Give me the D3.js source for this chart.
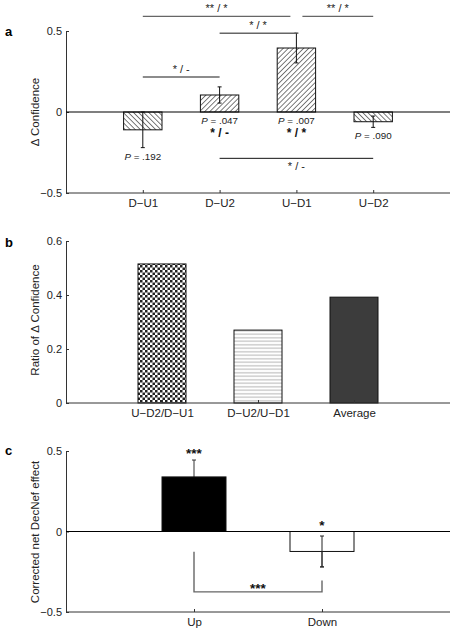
<!DOCTYPE html>
<html><head><meta charset="utf-8">
<script src="https://cdn.jsdelivr.net/npm/d3@7"></script>
<style>body{margin:0;background:#fff}svg{display:block}text{font-family:"Liberation Sans",Arial,sans-serif}</style>
</head><body>
<script>
// Panel a
const catsA = ["D\u2212U1","D\u2212U2","U\u2212D1","U\u2212D2"];
const meanA = [-0.11, 0.105, 0.395, -0.06];
const errA  = [0.11, 0.05, 0.092, 0.035];
const pA    = [".192", ".047", ".007", ".090"];
const sigA  = ["", "* / -", "* / *", ""];
const hatchA = ["back","fwd","fwd","back"];
const ticksA = [-0.5, 0, 0.5];
// comparisons: from, to category index, y level (data units), label
const compA = [
  {from:0, to:2, y:0.59,  label:"** / *", end:-1, kind:"grey"},
  {from:2, to:3, y:0.59,  label:"** / *", start:1, kind:"grey"},
  {from:1, to:2, y:0.486, label:"* / *",  kind:"grey"},
  {from:0, to:1, y:0.216, label:"* / -",  kind:"grey"},
  {from:1, to:3, y:-0.286,label:"* / -",  kind:"black", below:true}
];
// Panel b
const catsB = ["U\u2212D2/D\u2212U1","D\u2212U2/U\u2212D1","Average"];
const valB  = [0.515, 0.27, 0.392];
const ticksB = [0, 0.2, 0.4, 0.6];
// Panel c
const catsC = ["Up","Down"];
const meanC = [0.339, -0.124];
const errC  = [0.105, 0.096];
const starC = ["***","*"];
const ticksC = [-0.5, 0, 0.5];
const bracketC = {top:-0.125, left:-0.375, right:-0.305, label:"***"};

const W=456,H=633;
const svg=d3.select("body").append("svg").attr("width",W).attr("height",H);
const defs=svg.append("defs");
function hatch(id,dir){
  const p=defs.append("pattern").attr("id",id).attr("patternUnits","userSpaceOnUse")
    .attr("width",3.6).attr("height",3.6)
    .attr("patternTransform","rotate("+(dir==="fwd"?45:-45)+")");
  p.append("rect").attr("width",3.6).attr("height",3.6).attr("fill","#fff");
  p.append("line").attr("x1",0).attr("y1",0).attr("x2",0).attr("y2",3.6).attr("stroke","#111").attr("stroke-width",1.1);
}
hatch("fwd","fwd"); hatch("back","back");
const ck=defs.append("pattern").attr("id","check").attr("patternUnits","userSpaceOnUse").attr("width",5).attr("height",5);
ck.append("rect").attr("width",5).attr("height",5).attr("fill","#fff");
ck.append("rect").attr("width",2.5).attr("height",2.5).attr("fill","#222");
ck.append("rect").attr("x",2.5).attr("y",2.5).attr("width",2.5).attr("height",2.5).attr("fill","#222");
const hz=defs.append("pattern").attr("id","horiz").attr("patternUnits","userSpaceOnUse").attr("width",4).attr("height",3.5);
hz.append("rect").attr("width",4).attr("height",3.5).attr("fill","#fff");
hz.append("line").attr("x1",0).attr("x2",4).attr("y1",1.75).attr("y2",1.75).attr("stroke","#999").attr("stroke-width",0.8);

const X0=66,X1=450, AX="#333";
function axes(g,x,y,ticks,cats,ylabel,ymid,letter,ltop){
  const yMin=y.domain()[0];
  g.append("g").attr("transform",`translate(${X0},0)`)
    .call(d3.axisLeft(y).tickValues(ticks).tickSizeInner(-3).tickSizeOuter(0).tickPadding(4)
      .tickFormat(d=>d===0?"0":d3.format(".1f")(d).replace("-","\u2212")))
    .call(s=>{s.select(".domain").attr("stroke",AX);s.selectAll("line").attr("stroke",AX);
      s.selectAll("text").attr("font-size",11).attr("fill","#222").attr("font-family","Liberation Sans, Arial, sans-serif");});
  g.append("g").attr("transform",`translate(0,${y(yMin)})`)
    .call(d3.axisBottom(x).tickSizeInner(-3).tickSizeOuter(0).tickPadding(6))
    .call(s=>{s.select(".domain").attr("stroke",AX).attr("d",`M${X0},0H${X1}`);s.selectAll("line").attr("stroke",AX);
      s.selectAll("text").attr("font-size",11.5).attr("fill","#222").attr("font-family","Liberation Sans, Arial, sans-serif");});
  g.append("text").attr("transform",`translate(39,${ymid}) rotate(-90)`).attr("text-anchor","middle")
    .attr("font-size",11.5).attr("fill","#222").text(ylabel);
  g.append("text").attr("x",5).attr("y",ltop).attr("font-size",13).attr("font-weight","bold").text(letter);
}

// ---- Panel a
{
  const x=d3.scalePoint().domain(catsA).range([X0,X1]).padding(1);
  const y=d3.scaleLinear().domain([-0.5,0.5]).range([193,31]);
  const bw=x.step()*0.5;
  const g=svg.append("g");
  axes(g,x,y,ticksA,catsA,"\u0394 Confidence",112,"a",36);
  g.selectAll(".bar").data(catsA).join("rect")
    .attr("x",d=>x(d)-bw/2).attr("width",bw)
    .attr("y",(d,i)=>y(Math.max(0,meanA[i]))).attr("height",(d,i)=>Math.abs(y(meanA[i])-y(0)))
    .attr("fill",(d,i)=>`url(#${hatchA[i]})`).attr("stroke","#111").attr("stroke-width",1);
  g.append("line").attr("x1",X0).attr("x2",X1).attr("y1",y(0)).attr("y2",y(0)).attr("stroke","#000").attr("stroke-width",1.2);
  catsA.forEach((c,i)=>{
    const cx=x(c), lo=y(meanA[i]-errA[i]), hi=y(meanA[i]+errA[i]);
    g.append("line").attr("x1",cx).attr("x2",cx).attr("y1",lo).attr("y2",hi).attr("stroke","#111");
    [lo,hi].forEach(v=>g.append("line").attr("x1",cx-2).attr("x2",cx+2).attr("y1",v).attr("y2",v).attr("stroke","#111"));
    const base = meanA[i]<0 ? y(meanA[i]-errA[i]) : y(0);
    const t=g.append("text").attr("x",cx).attr("y",base+12).attr("text-anchor","middle").attr("font-size",9.8).attr("fill","#222");
    t.append("tspan").attr("font-style","italic").text("P");
    t.append("tspan").text(" = "+pA[i]);
    if(sigA[i]) g.append("text").attr("x",cx).attr("y",base+25).attr("text-anchor","middle")
      .attr("font-size",12).attr("font-weight","bold").attr("fill","#111").text(sigA[i]);
  });
  compA.forEach(c=>{
    const xa=x(catsA[c.from])+(c.start?6:0), xb=x(catsA[c.to])+(c.end?-6:0), yy=y(c.y);
    g.append("line").attr("x1",xa).attr("x2",xb).attr("y1",yy).attr("y2",yy)
      .attr("stroke",c.kind==="black"?"#111":"#666").attr("stroke-width",c.kind==="black"?1:1.4);
    g.append("text").attr("x",(xa+xb)/2).attr("y",c.below?yy+12:yy-4).attr("text-anchor","middle")
      .attr("font-size",11).attr("fill","#222").text(c.label);
  });
}
// ---- Panel b
{
  const x=d3.scalePoint().domain(catsB).range([X0,X1]).padding(1);
  const y=d3.scaleLinear().domain([0,0.6]).range([403,241]);
  const bw=x.step()*0.5;
  const g=svg.append("g");
  const fills=["url(#check)","url(#horiz)","#3c3c3c"];
  g.selectAll(".bar").data(catsB).join("rect")
    .attr("x",d=>x(d)-bw/2).attr("width",bw)
    .attr("y",(d,i)=>y(valB[i])).attr("height",(d,i)=>y(0)-y(valB[i]))
    .attr("fill",(d,i)=>fills[i]).attr("stroke","#111").attr("stroke-width",1);
  axes(g,x,y,ticksB,catsB,"Ratio of \u0394 Confidence",320,"b",247);
}
// ---- Panel c
{
  const x=d3.scalePoint().domain(catsC).range([X0,X1]).padding(1);
  const y=d3.scaleLinear().domain([-0.5,0.5]).range([612,451]);
  const bw=x.step()*0.5;
  const g=svg.append("g");
  const fills=["#000","#fff"];
  axes(g,x,y,ticksC,catsC,"Corrected net DecNef effect",532,"c",455);
  catsC.forEach((c,i)=>{
    const cx=x(c), lo=y(meanC[i]-errC[i]), hi=y(meanC[i]+errC[i]);
    g.append("line").attr("x1",cx).attr("x2",cx).attr("y1",lo).attr("y2",hi).attr("stroke","#333");
    [lo,hi].forEach(v=>g.append("line").attr("x1",cx-2).attr("x2",cx+2).attr("y1",v).attr("y2",v).attr("stroke","#333"));
  });
  g.selectAll(".bar").data(catsC).join("rect")
    .attr("x",d=>x(d)-bw/2).attr("width",bw)
    .attr("y",(d,i)=>y(Math.max(0,meanC[i]))).attr("height",(d,i)=>Math.abs(y(meanC[i])-y(0)))
    .attr("fill",(d,i)=>fills[i]).attr("stroke","#111").attr("stroke-width",1);
  {
    const i=1, cx=x(catsC[i]), lo=y(meanC[i]-errC[i]), hi=y(meanC[i]+errC[i]);
    g.append("line").attr("x1",cx).attr("x2",cx).attr("y1",lo).attr("y2",hi).attr("stroke","#222");
    [lo,hi].forEach(v=>g.append("line").attr("x1",cx-2).attr("x2",cx+2).attr("y1",v).attr("y2",v).attr("stroke","#222"));
  }
  g.append("line").attr("x1",X0).attr("x2",X1).attr("y1",y(0)).attr("y2",y(0)).attr("stroke","#000").attr("stroke-width",1.2);
  catsC.forEach((c,i)=>{
    const top = meanC[i]>0 ? y(meanC[i]+errC[i]) : y(0);
    g.append("text").attr("x",x(c)).attr("y",top-2).attr("text-anchor","middle").attr("font-size",13.5)
      .attr("font-weight","bold").attr("fill","#111").text(starC[i]);
  });
  const xa=x(catsC[0]), xb=x(catsC[1]);
  g.append("path").attr("d",`M${xa},${y(bracketC.top)}V${y(bracketC.left)}H${xb}V${y(bracketC.right)}`)
    .attr("fill","none").attr("stroke","#666").attr("stroke-width",1.4);
  g.append("text").attr("x",(xa+xb)/2).attr("y",y(bracketC.left)+1).attr("text-anchor","middle").attr("font-size",13.5)
    .attr("font-weight","bold").attr("fill","#111").text(bracketC.label);
}
</script>
</body></html>
